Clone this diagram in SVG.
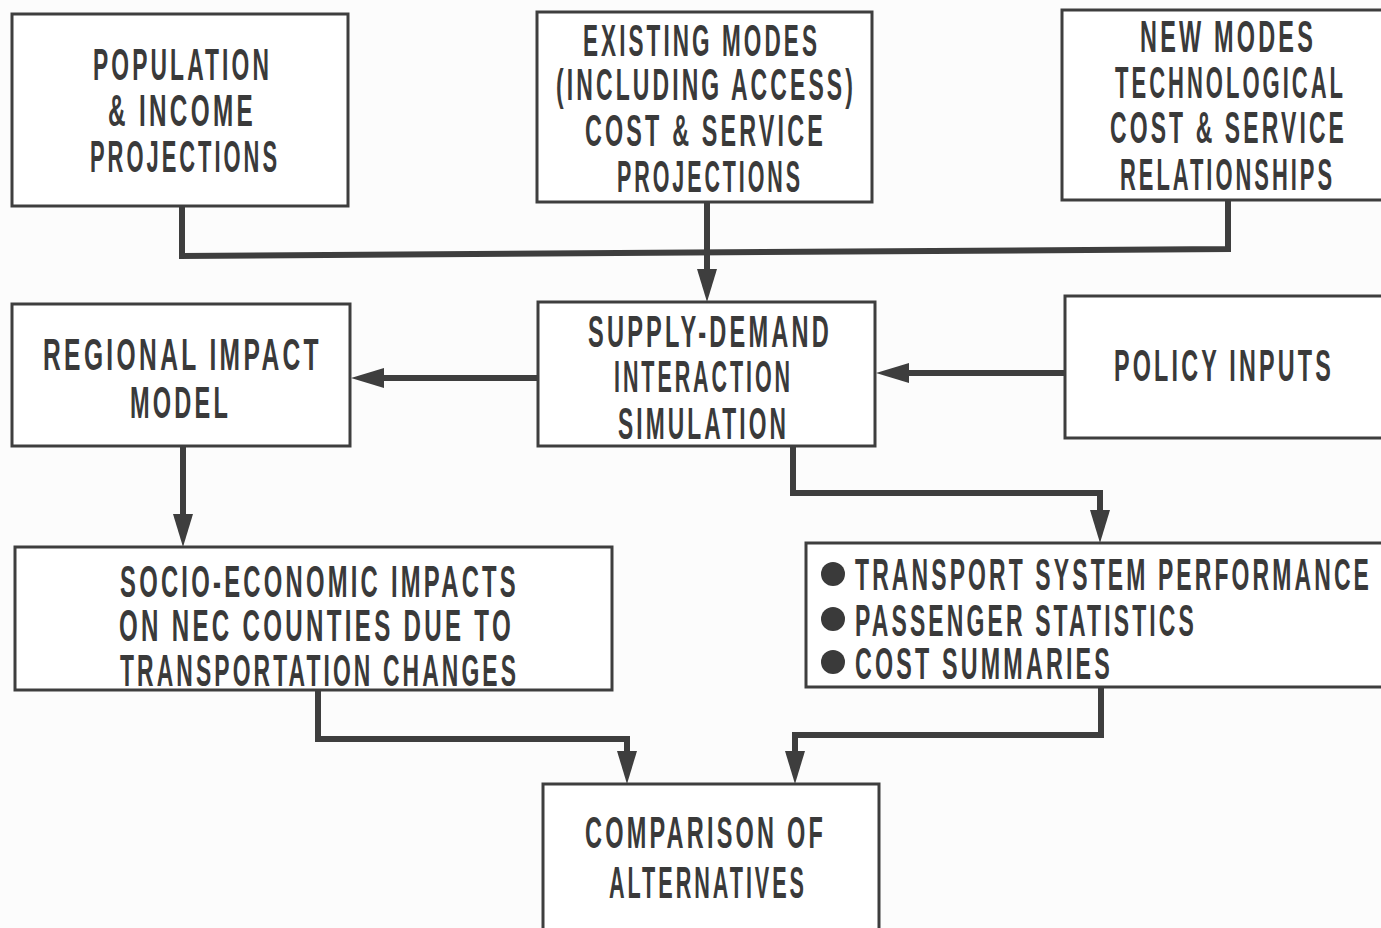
<svg xmlns="http://www.w3.org/2000/svg" width="1381" height="928" viewBox="0 0 1381 928">
  <style>
    .box { fill: #ffffff; stroke: #3e3e3e; stroke-width: 3; }
    .lbl { font-family: "Liberation Sans Narrow", "Liberation Sans", "DejaVu Sans Condensed", sans-serif; font-weight: bold; font-size: 44px; letter-spacing: 6px; fill: #3a3a3a; }
    .wire { fill: none; stroke: #3e3e3e; stroke-width: 6; stroke-linejoin: miter; }
    .dot { fill: #3a3a3a; }
  </style>
  <defs>
    <marker id="head" markerUnits="userSpaceOnUse" markerWidth="34" markerHeight="22" viewBox="0 0 34 22" refX="9" refY="11" orient="auto">
      <path d="M0,1 L33,11 L0,21 Z" fill="#3e3e3e"/>
    </marker>
  </defs>

  <rect width="1381" height="928" fill="#fcfcfc"/>

  <!-- connectors -->
  <g id="connectors">
    <path class="wire" d="M182,206 V256 L1228,249 V200"/>
    <path class="wire" d="M707,202 V278" marker-end="url(#head)"/>
    <path class="wire" d="M538,378 H375" marker-end="url(#head)"/>
    <path class="wire" d="M1065,373 H900" marker-end="url(#head)"/>
    <path class="wire" d="M183,446 V523" marker-end="url(#head)"/>
    <path class="wire" d="M793,446 V493 H1100 V519" marker-end="url(#head)"/>
    <path class="wire" d="M318,690 V739 H627 V760" marker-end="url(#head)"/>
    <path class="wire" d="M1101,687 V735 H795 V760" marker-end="url(#head)"/>
  </g>

  <!-- input projections -->
  <g id="population">
    <rect class="box" x="12" y="14" width="336" height="192"/>
    <text class="lbl" x="93" y="80" textLength="179" lengthAdjust="spacingAndGlyphs">POPULATION</text>
    <text class="lbl" x="108" y="126" textLength="148" lengthAdjust="spacingAndGlyphs">&amp; INCOME</text>
    <text class="lbl" x="90" y="172" textLength="190" lengthAdjust="spacingAndGlyphs">PROJECTIONS</text>
  </g>

  <g id="existing-modes">
    <rect class="box" x="537" y="12" width="335" height="190"/>
    <text class="lbl" x="583" y="56" textLength="237" lengthAdjust="spacingAndGlyphs">EXISTING MODES</text>
    <text class="lbl" x="556" y="100" textLength="300" lengthAdjust="spacingAndGlyphs">(INCLUDING ACCESS)</text>
    <text class="lbl" x="585" y="146" textLength="241" lengthAdjust="spacingAndGlyphs">COST &amp; SERVICE</text>
    <text class="lbl" x="617" y="192" textLength="186" lengthAdjust="spacingAndGlyphs">PROJECTIONS</text>
  </g>

  <!-- the right-hand boxes run off the sheet, so they are open on that side -->
  <g id="new-modes">
    <path class="box" d="M1381,10 H1062 V200 H1381"/>
    <text class="lbl" x="1140" y="52" textLength="176" lengthAdjust="spacingAndGlyphs">NEW MODES</text>
    <text class="lbl" x="1115" y="98" textLength="231" lengthAdjust="spacingAndGlyphs">TECHNOLOGICAL</text>
    <text class="lbl" x="1110" y="143" textLength="237" lengthAdjust="spacingAndGlyphs">COST &amp; SERVICE</text>
    <text class="lbl" x="1120" y="190" textLength="215" lengthAdjust="spacingAndGlyphs">RELATIONSHIPS</text>
  </g>

  <!-- simulation row -->
  <g id="regional-impact">
    <rect class="box" x="12" y="304" width="338" height="142"/>
    <text class="lbl" x="43" y="370" textLength="279" lengthAdjust="spacingAndGlyphs">REGIONAL IMPACT</text>
    <text class="lbl" x="130" y="418" textLength="101" lengthAdjust="spacingAndGlyphs">MODEL</text>
  </g>

  <g id="supply-demand">
    <rect class="box" x="538" y="302" width="337" height="144"/>
    <text class="lbl" x="588" y="347" textLength="244" lengthAdjust="spacingAndGlyphs">SUPPLY-DEMAND</text>
    <text class="lbl" x="614" y="392" textLength="179" lengthAdjust="spacingAndGlyphs">INTERACTION</text>
    <text class="lbl" x="618" y="439" textLength="171" lengthAdjust="spacingAndGlyphs">SIMULATION</text>
  </g>

  <g id="policy-inputs">
    <path class="box" d="M1381,296 H1065 V438 H1381"/>
    <text class="lbl" x="1114" y="381" textLength="220" lengthAdjust="spacingAndGlyphs">POLICY INPUTS</text>
  </g>

  <!-- outputs -->
  <g id="socio-economic">
    <rect class="box" x="15" y="547" width="597" height="143"/>
    <text class="lbl" x="120" y="597" textLength="399" lengthAdjust="spacingAndGlyphs">SOCIO-ECONOMIC IMPACTS</text>
    <text class="lbl" x="119" y="641" textLength="395" lengthAdjust="spacingAndGlyphs">ON NEC COUNTIES DUE TO</text>
    <text class="lbl" x="120" y="686" textLength="399" lengthAdjust="spacingAndGlyphs">TRANSPORTATION CHANGES</text>
  </g>

  <g id="system-outputs">
    <path class="box" d="M1381,543 H806 V687 H1381"/>
    <circle class="dot" cx="833" cy="574" r="12"/>
    <circle class="dot" cx="833" cy="619" r="12"/>
    <circle class="dot" cx="833" cy="662" r="12"/>
    <text class="lbl" x="855" y="590" textLength="517" lengthAdjust="spacingAndGlyphs">TRANSPORT SYSTEM PERFORMANCE</text>
    <text class="lbl" x="855" y="636" textLength="342" lengthAdjust="spacingAndGlyphs">PASSENGER STATISTICS</text>
    <text class="lbl" x="855" y="679" textLength="258" lengthAdjust="spacingAndGlyphs">COST SUMMARIES</text>
  </g>

  <g id="comparison">
    <path class="box" d="M543,928 V784 H879 V928"/>
    <text class="lbl" x="585" y="848" textLength="241" lengthAdjust="spacingAndGlyphs">COMPARISON OF</text>
    <text class="lbl" x="609" y="898" textLength="198" lengthAdjust="spacingAndGlyphs">ALTERNATIVES</text>
  </g>
</svg>
